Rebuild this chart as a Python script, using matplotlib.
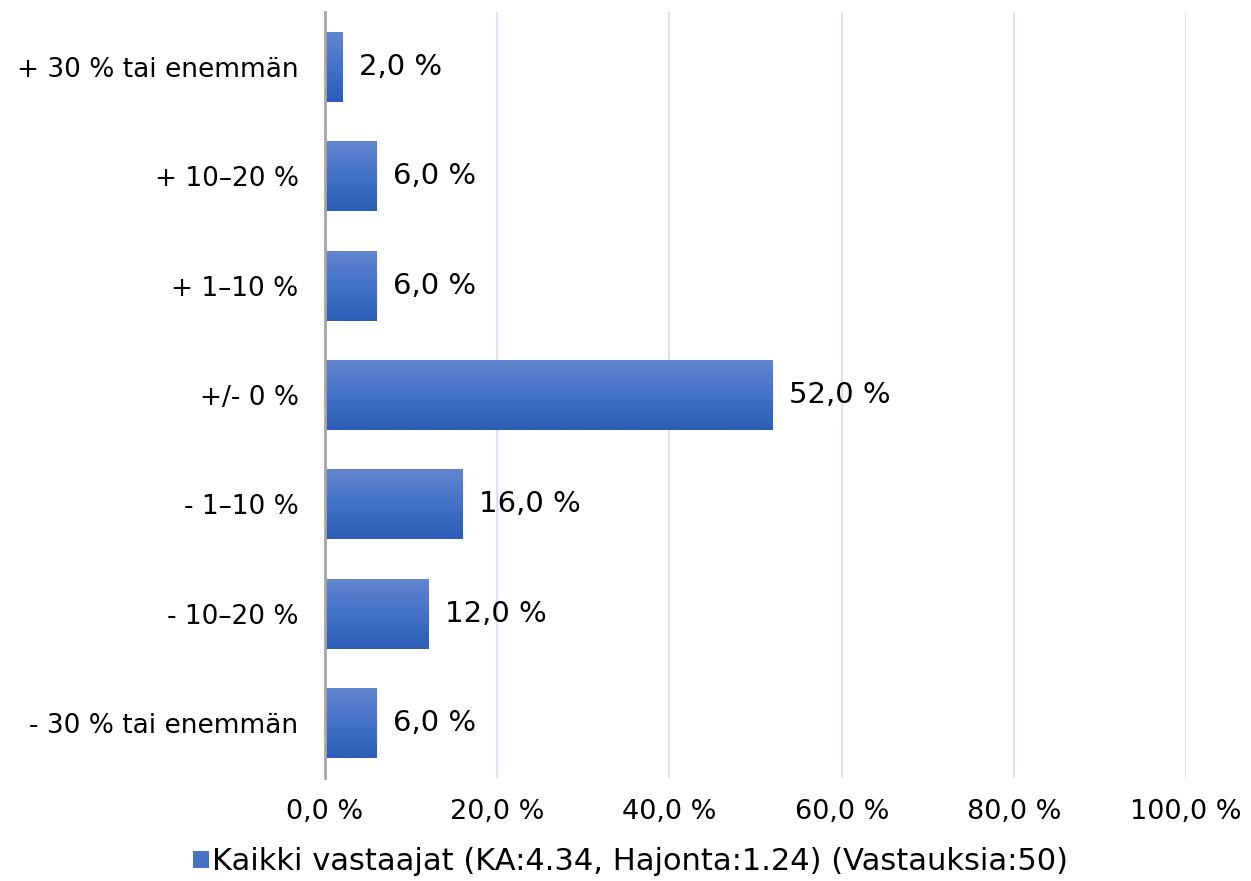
import matplotlib.pyplot as plt
import numpy as np
from matplotlib.colors import LinearSegmentedColormap

# arvot kuvasta
categories = ['+ 30 % tai enemmän', '+ 10–20 %', '+ 1–10 %', '+/- 0 %',
              '- 1–10 %', '- 10–20 %', '- 30 % tai enemmän']
values = [2.0, 6.0, 6.0, 52.0, 16.0, 12.0, 6.0]
xticks = [0, 20, 40, 60, 80, 100]
legend_label = 'Kaikki vastaajat (KA:4.34, Hajonta:1.24) (Vastauksia:50)'

plt.rcParams['font.family'] = ['DejaVu Sans']

fig = plt.figure(figsize=(12.51, 8.81), dpi=100)
ax = fig.add_axes([0.2598, 0.1169, 0.6884, 0.8695])

y = np.arange(len(categories))
bars = ax.barh(y, values, height=0.64, color='#4472C4', label=legend_label, zorder=2)

# pystysuuntainen liukuväri palkkeihin
cmap = LinearSegmentedColormap.from_list('grad', ['#6486CF', '#4472C8', '#2D5DB6'])
grad = np.linspace(0, 1, 64).reshape(-1, 1)
for b in bars:
    x0, y0, w, h = b.get_x(), b.get_y(), b.get_width(), b.get_height()
    im = ax.imshow(grad, cmap=cmap, aspect='auto', origin='upper',
                   extent=(x0, x0 + w, y0 + h, y0), zorder=3, interpolation='bilinear')
    im.set_clip_path(b)

for yi, v in zip(y, values):
    ax.annotate(f'{v:.1f} %'.replace('.', ','), (v, yi), xytext=(12, 0),
                textcoords='offset points', va='center', ha='left', fontsize=21, color='#000000')

ax.set_xlim(0, 100)
ax.set_ylim(len(categories) - 0.5, -0.5)
ax.set_yticks(y)
ax.set_yticklabels(categories)
ax.set_xticks(xticks)
ax.set_xticklabels([f'{t:.1f} %'.replace('.', ',') for t in xticks])
ax.tick_params(axis='y', length=0, pad=19, labelsize=19)
ax.tick_params(axis='x', length=0, pad=15, labelsize=19.5)

ax.grid(axis='x', color='#DCE3EC', linewidth=1.5, zorder=0)
ax.set_axisbelow(True)
for s in ['top', 'right', 'bottom']:
    ax.spines[s].set_visible(False)
ax.spines['left'].set_color('#A6A6A6')
ax.spines['left'].set_linewidth(2)
ax.spines['left'].set_zorder(4)

fig.legend(handles=[bars], labels=[legend_label], loc='center',
           bbox_to_anchor=(0.504, 0.022), frameon=False, fontsize=22,
           handlelength=0.5, handleheight=0.5, handletextpad=0.1,
           borderpad=0, borderaxespad=0)

fig.savefig('out.png', dpi=100)
